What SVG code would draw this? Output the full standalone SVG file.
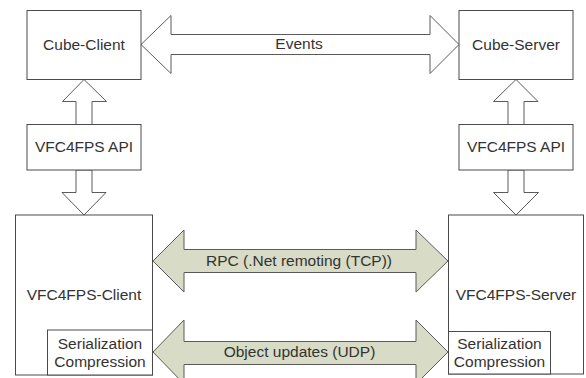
<svg xmlns="http://www.w3.org/2000/svg" width="586" height="378" viewBox="0 0 586 378">
  <style>
    .box { fill: #ffffff; stroke: #4a4a4a; stroke-width: 1; }
    .hollow { fill: #ffffff; stroke: #5a5a5a; stroke-width: 1; stroke-linejoin: miter; }
    .link { fill: #d8dbc6; stroke: #5a5a5a; stroke-width: 1; stroke-linejoin: miter; }
    text { font-family: "Liberation Sans", Arial, sans-serif; font-size: 15.5px; fill: #333333; text-anchor: middle; }
  </style>

  <!-- connectors: block arrows -->
  <g id="connectors">
    <!-- Events (two-way) -->
    <polygon class="hollow" points="141,44.5 171,15.5 171,34.5 430,34.5 430,15.5 459,44.5 430,73.5 430,54.5 171,54.5 171,73.5"/>
    <!-- client API up/down -->
    <polygon class="hollow" points="84,79.5 62.5,101.5 76,101.5 76,124.5 92,124.5 92,101.5 106.5,101.5"/>
    <polygon class="hollow" points="76,170 76,192.5 62,192.5 84,215 106,192.5 92,192.5 92,170"/>
    <!-- server API up/down -->
    <polygon class="hollow" points="516,79.5 493.5,101.5 508,101.5 508,124.5 524,124.5 524,101.5 538,101.5"/>
    <polygon class="hollow" points="508,170 508,192.5 493.5,192.5 516,215 538.5,192.5 524,192.5 524,170"/>
    <!-- RPC -->
    <polygon class="link" points="153,261 184,230 184,249.5 416,249.5 416,230 448,261 416,292 416,272.5 184,272.5 184,292"/>
    <!-- Object updates -->
    <polygon class="link" points="153,352 184,320 184,341.5 416,341.5 416,320 448,352 416,384 416,364.5 184,364.5 184,384"/>
    <text x="299" y="48.5">Events</text>
    <text x="299" y="265.5">RPC (.Net remoting (TCP))</text>
    <text x="299.5" y="357">Object updates (UDP)</text>
  </g>

  <g id="cube-client">
    <rect class="box" x="27" y="10.5" width="114" height="69"/>
    <text x="84" y="50">Cube-Client</text>
  </g>
  <g id="cube-server">
    <rect class="box" x="459" y="10.5" width="114" height="69"/>
    <text x="516" y="50">Cube-Server</text>
  </g>
  <g id="api-client">
    <rect class="box" x="27" y="124.5" width="114" height="45.5"/>
    <text x="84" y="152">VFC4FPS API</text>
  </g>
  <g id="api-server">
    <rect class="box" x="459" y="124.5" width="114" height="45.5"/>
    <text x="516" y="152">VFC4FPS API</text>
  </g>
  <g id="vfc-client">
    <rect class="box" x="15.5" y="215" width="137" height="160"/>
    <text x="84" y="300">VFC4FPS-Client</text>
  </g>
  <g id="ser-client">
    <rect class="box" x="47.5" y="330" width="105" height="45"/>
    <text x="100" y="348.5">Serialization</text>
    <text x="100" y="367">Compression</text>
  </g>
  <g id="vfc-server">
    <rect class="box" x="448.5" y="215" width="135" height="159"/>
    <text x="516" y="300">VFC4FPS-Server</text>
  </g>
  <g id="ser-server">
    <rect class="box" x="448.5" y="331.5" width="102" height="42.5"/>
    <text x="499.5" y="348.5">Serialization</text>
    <text x="499.5" y="367">Compression</text>
  </g>
</svg>
